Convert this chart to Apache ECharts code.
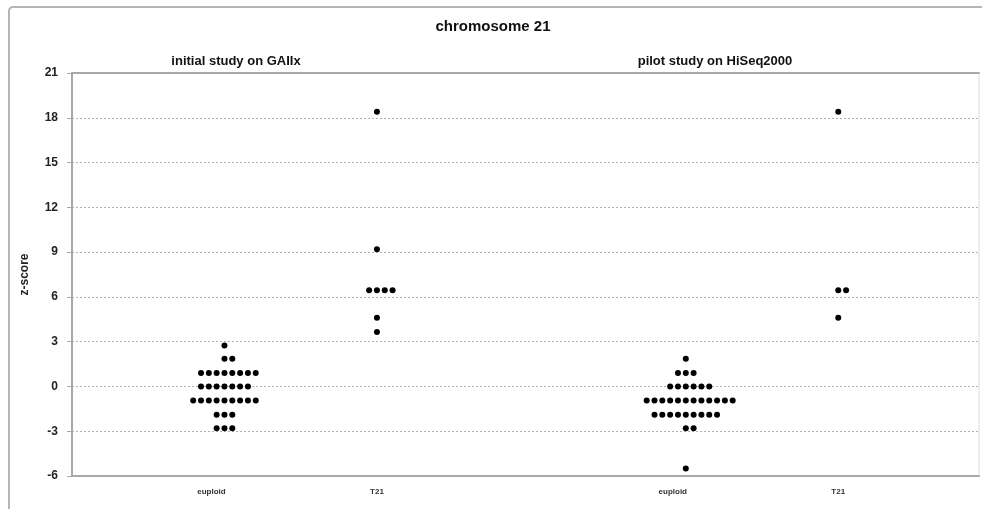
<!DOCTYPE html>
<html>
<head>
<meta charset="utf-8">
<script src="https://cdn.jsdelivr.net/npm/echarts@6/dist/echarts.min.js"></script>
<style>
html,body{margin:0;padding:0;background:#fff;}
#chart{width:982px;height:509px;}
</style>
</head>
<body>
<div id="chart"></div>
<script>
// ---- data ----
const chartTitle = 'chromosome 21';
const studies = ['initial study on GAIIx', 'pilot study on HiSeq2000'];
const categories = ['euploid', 'T21', 'euploid', 'T21'];
const yTicks = [-6, -3, 0, 3, 6, 9, 12, 15, 18, 21];

const gaiixEuploid = [2.75, 1.85, 1.85,
  0.9, 0.9, 0.9, 0.9, 0.9, 0.9, 0.9, 0.9,
  0, 0, 0, 0, 0, 0, 0,
  -0.95, -0.95, -0.95, -0.95, -0.95, -0.95, -0.95, -0.95, -0.95,
  -1.9, -1.9, -1.9,
  -2.8, -2.8, -2.8];
const gaiixT21 = [18.4, 9.2, 6.45, 6.45, 6.45, 6.45, 4.6, 3.65];
const hiseqEuploid = [1.85,
  0.9, 0.9, 0.9,
  0, 0, 0, 0, 0, 0,
  -0.95, -0.95, -0.95, -0.95, -0.95, -0.95, -0.95, -0.95, -0.95, -0.95, -0.95, -0.95,
  -1.9, -1.9, -1.9, -1.9, -1.9, -1.9, -1.9, -1.9, -1.9,
  -2.8, -2.8,
  -5.5];
const hiseqT21 = [18.4, 6.45, 6.45, 4.6];

// ---- layout (x units: one dot spacing) ----
const X_MAX = 116;
const GROUP_X = [19.5, 39, 78.5, 98];
const groups = [gaiixEuploid, gaiixT21, hiseqEuploid, hiseqT21];

function dotPlot(values, center) {
  const rows = new Map();
  values.forEach(v => { rows.set(v, (rows.get(v) || 0) + 1); });
  const pts = [];
  rows.forEach((n, v) => {
    const start = -Math.floor((n - 1) / 2);
    for (let i = 0; i < n; i++) pts.push([center + start + i, v]);
  });
  return pts;
}

const FONT = "'Liberation Sans', Arial, sans-serif";
const chart = echarts.init(document.getElementById('chart'));

const series = groups.map((vals, gi) => ({
  type: 'scatter',
  name: categories[gi],
  data: dotPlot(vals, GROUP_X[gi]),
  symbol: 'circle',
  symbolSize: 6,
  itemStyle: { color: '#000', opacity: 1 },
  silent: true
}));

chart.setOption({
  animation: false,
  backgroundColor: '#fff',
  grid: { left: 72, right: 3, top: 73, bottom: 33, show: true, borderColor: '#dcdcdc', borderWidth: 1 },
  graphic: [
    { type: 'rect', shape: { x: 9, y: 7, width: 1100, height: 700, r: 4 },
      style: { fill: 'none', stroke: '#b4b4b4', lineWidth: 2 }, silent: true, z: -1 },
    { type: 'text', x: 493, y: 27,
      style: { text: chartTitle, font: 'bold 15px ' + FONT, fill: '#111', textAlign: 'center', textVerticalAlign: 'middle' } },
    { type: 'text', x: 236, y: 61,
      style: { text: studies[0], font: 'bold 13px ' + FONT, fill: '#111', textAlign: 'center', textVerticalAlign: 'middle' } },
    { type: 'text', x: 715, y: 61,
      style: { text: studies[1], font: 'bold 13px ' + FONT, fill: '#111', textAlign: 'center', textVerticalAlign: 'middle' } }
  ],
  xAxis: [{
    type: 'value', min: 0, max: X_MAX, position: 'bottom',
    axisLine: { show: true, onZero: false, lineStyle: { color: '#a8a8a8', width: 2 } },
    axisTick: { show: false },
    splitLine: { show: false },
    axisLabel: {
      customValues: GROUP_X,
      margin: 12,
      formatter: function (v) {
        let idx = 0, best = Infinity;
        GROUP_X.forEach((g, i) => { if (Math.abs(g - v) < best) { best = Math.abs(g - v); idx = i; } });
        const name = categories[idx];
        return name === 'euploid' ? '{e|' + name + '}' : '{t|' + name + '}';
      },
      rich: {
        e: { fontSize: 8, fontWeight: 'bold', color: '#333', fontFamily: FONT, padding: [0, 26, 0, 0] },
        t: { fontSize: 8, fontWeight: 'bold', color: '#333', fontFamily: FONT }
      }
    }
  }, {
    type: 'value', min: 0, max: X_MAX, position: 'top',
    axisLine: { show: true, onZero: false, lineStyle: { color: '#a8a8a8', width: 2 } },
    axisTick: { show: false }, axisLabel: { show: false }, splitLine: { show: false }
  }],
  yAxis: {
    type: 'value', min: yTicks[0], max: yTicks[yTicks.length - 1], interval: 3,
    name: 'z-score', nameLocation: 'middle', nameGap: 41, nameRotate: 90,
    nameTextStyle: { fontSize: 12, fontWeight: 'bold', color: '#222', fontFamily: FONT },
    axisLine: { show: true, onZero: false, lineStyle: { color: '#a8a8a8', width: 2 } },
    axisTick: { show: true, length: 5, lineStyle: { color: '#a8a8a8' } },
    axisLabel: { margin: 14, fontSize: 12, fontWeight: 'bold', color: '#222', fontFamily: FONT },
    splitLine: { show: true, lineStyle: { color: '#b0b0b0', type: [2, 2], width: 1 } }
  },
  series: series
});
</script>
</body>
</html>
